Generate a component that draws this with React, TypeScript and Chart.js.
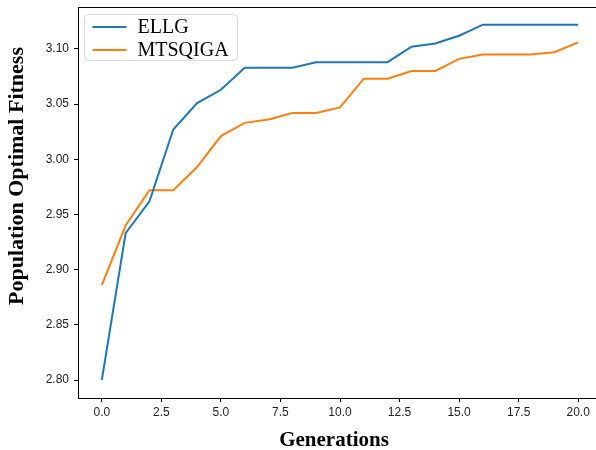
import React, { useEffect, useRef } from "react";
import { Chart, registerables } from "chart.js";

Chart.register(...registerables);

const generations = [0, 1, 2, 3, 4, 5, 6, 7, 8, 9, 10, 11, 12, 13, 14, 15, 16, 17, 18, 19, 20];
const ellg = [2.800, 2.933, 2.962, 3.027, 3.051, 3.063, 3.083, 3.083, 3.083, 3.088, 3.088, 3.088, 3.088, 3.102, 3.105, 3.112, 3.122, 3.122, 3.122, 3.122, 3.122];
const mtsqiga = [2.886, 2.940, 2.972, 2.972, 2.993, 3.021, 3.033, 3.036, 3.042, 3.042, 3.047, 3.073, 3.073, 3.080, 3.080, 3.091, 3.095, 3.095, 3.095, 3.097, 3.106];
const xTicks = [0, 2.5, 5, 7.5, 10, 12.5, 15, 17.5, 20];
const yTicks = [2.8, 2.85, 2.9, 2.95, 3.0, 3.05, 3.1];
const seriesNames = ["ELLG", "MTSQIGA"];
const seriesColors = ["#1f77b4", "#ff7f0e"];
const xTitle = "Generations";
const yTitle = "Population Optimal Fitness";

const framePlugin = {
  id: "frame",
  afterDatasetsDraw(chart: any) {
    const { ctx, chartArea } = chart;
    ctx.save();
    ctx.strokeStyle = "#000";
    ctx.lineWidth = 1;
    ctx.beginPath();
    ctx.moveTo(chartArea.left, chartArea.top + 0.5);
    ctx.lineTo(chartArea.right, chartArea.top + 0.5);
    ctx.stroke();

    // legend box
    const bx = chartArea.left + 6.5;
    const by = chartArea.top + 7.5;
    const bw = 153;
    const bh = 46;
    const r = 4;
    ctx.beginPath();
    ctx.moveTo(bx + r, by);
    ctx.lineTo(bx + bw - r, by);
    ctx.quadraticCurveTo(bx + bw, by, bx + bw, by + r);
    ctx.lineTo(bx + bw, by + bh - r);
    ctx.quadraticCurveTo(bx + bw, by + bh, bx + bw - r, by + bh);
    ctx.lineTo(bx + r, by + bh);
    ctx.quadraticCurveTo(bx, by + bh, bx, by + bh - r);
    ctx.lineTo(bx, by + r);
    ctx.quadraticCurveTo(bx, by, bx + r, by);
    ctx.closePath();
    ctx.fillStyle = "rgba(255,255,255,0.8)";
    ctx.fill();
    ctx.strokeStyle = "#d9d9d9";
    ctx.stroke();

    ctx.font = "20px 'Liberation Serif', 'Times New Roman', serif";
    ctx.textBaseline = "middle";
    ctx.textAlign = "left";
    seriesNames.forEach((name, i) => {
      const cy = by + 12.5 + i * 23;
      ctx.strokeStyle = seriesColors[i];
      ctx.lineWidth = 2;
      ctx.beginPath();
      ctx.moveTo(bx + 8, cy);
      ctx.lineTo(bx + 42, cy);
      ctx.stroke();
      ctx.fillStyle = "#000";
      ctx.fillText(name, bx + 53, cy + 1);
    });
    ctx.restore();
  },
  afterDraw(chart: any) {
    const { ctx } = chart;
    ctx.save();
    ctx.fillStyle = "#000";
    ctx.textAlign = "center";
    ctx.textBaseline = "middle";
    ctx.font = "bold 21px 'Liberation Serif', 'Times New Roman', serif";
    ctx.fillText(xTitle, 334, 441);
    ctx.font = "bold 22px 'Liberation Serif', 'Times New Roman', serif";
    ctx.translate(17, 176);
    ctx.rotate(-Math.PI / 2);
    ctx.fillText(yTitle, 0, 0);
    ctx.restore();
  },
};

const zeroPad = (s: any) => {
  s.paddingTop = 0;
  s.paddingBottom = 0;
  s.paddingLeft = 0;
  s.paddingRight = 0;
};

export default function App() {
  const ref = useRef<HTMLCanvasElement>(null);
  useEffect(() => {
    if (!ref.current) return;
    const chart = new Chart(ref.current, {
      type: "line",
      data: {
        datasets: [
          {
            label: seriesNames[0],
            data: generations.map((g, i) => ({ x: g, y: ellg[i] })),
            borderColor: seriesColors[0],
            backgroundColor: seriesColors[0],
            borderWidth: 2,
            pointRadius: 0,
            tension: 0,
          },
          {
            label: seriesNames[1],
            data: generations.map((g, i) => ({ x: g, y: mtsqiga[i] })),
            borderColor: seriesColors[1],
            backgroundColor: seriesColors[1],
            borderWidth: 2,
            pointRadius: 0,
            tension: 0,
          },
        ],
      },
      options: {
        responsive: false,
        animation: false,
        layout: { padding: { left: 0, top: 7, right: 38, bottom: 0 } },
        plugins: { legend: { display: false }, tooltip: { enabled: false } },
        scales: {
          x: {
            type: "linear",
            min: -1,
            max: 21,
            afterBuildTicks: (s: any) => {
              s.ticks = xTicks.map((v) => ({ value: v }));
            },
            afterFit: (s: any) => {
              s.height = 52;
              zeroPad(s);
            },
            grid: { display: true, drawOnChartArea: false, drawTicks: true, tickLength: 4, color: "#000" },
            border: { display: true, color: "#000", width: 1 },
            ticks: {
              padding: 3,
              color: "#222",
              font: { family: "'Liberation Sans', Arial, sans-serif", size: 12 },
              maxRotation: 0,
              callback: (v: any) => Number(v).toFixed(1),
            },
          },
          y: {
            type: "linear",
            min: 2.7837,
            max: 3.138,
            afterBuildTicks: (s: any) => {
              s.ticks = yTicks.map((v) => ({ value: v }));
            },
            afterFit: (s: any) => {
              s.width = 78;
              zeroPad(s);
            },
            grid: { display: true, drawOnChartArea: false, drawTicks: true, tickLength: 4, color: "#000" },
            border: { display: true, color: "#000", width: 1 },
            ticks: {
              padding: 5,
              color: "#222",
              font: { family: "'Liberation Sans', Arial, sans-serif", size: 12 },
              callback: (v: any) => Number(v).toFixed(2),
            },
          },
        },
      },
      plugins: [framePlugin],
    });
    return () => chart.destroy();
  }, []);
  return (
    <div style={{ position: "fixed", left: 0, top: 0, width: 596, height: 450, overflow: "hidden", background: "#fff" }}>
      <canvas ref={ref} width={640} height={450} style={{ display: "block" }} />
    </div>
  );
}
